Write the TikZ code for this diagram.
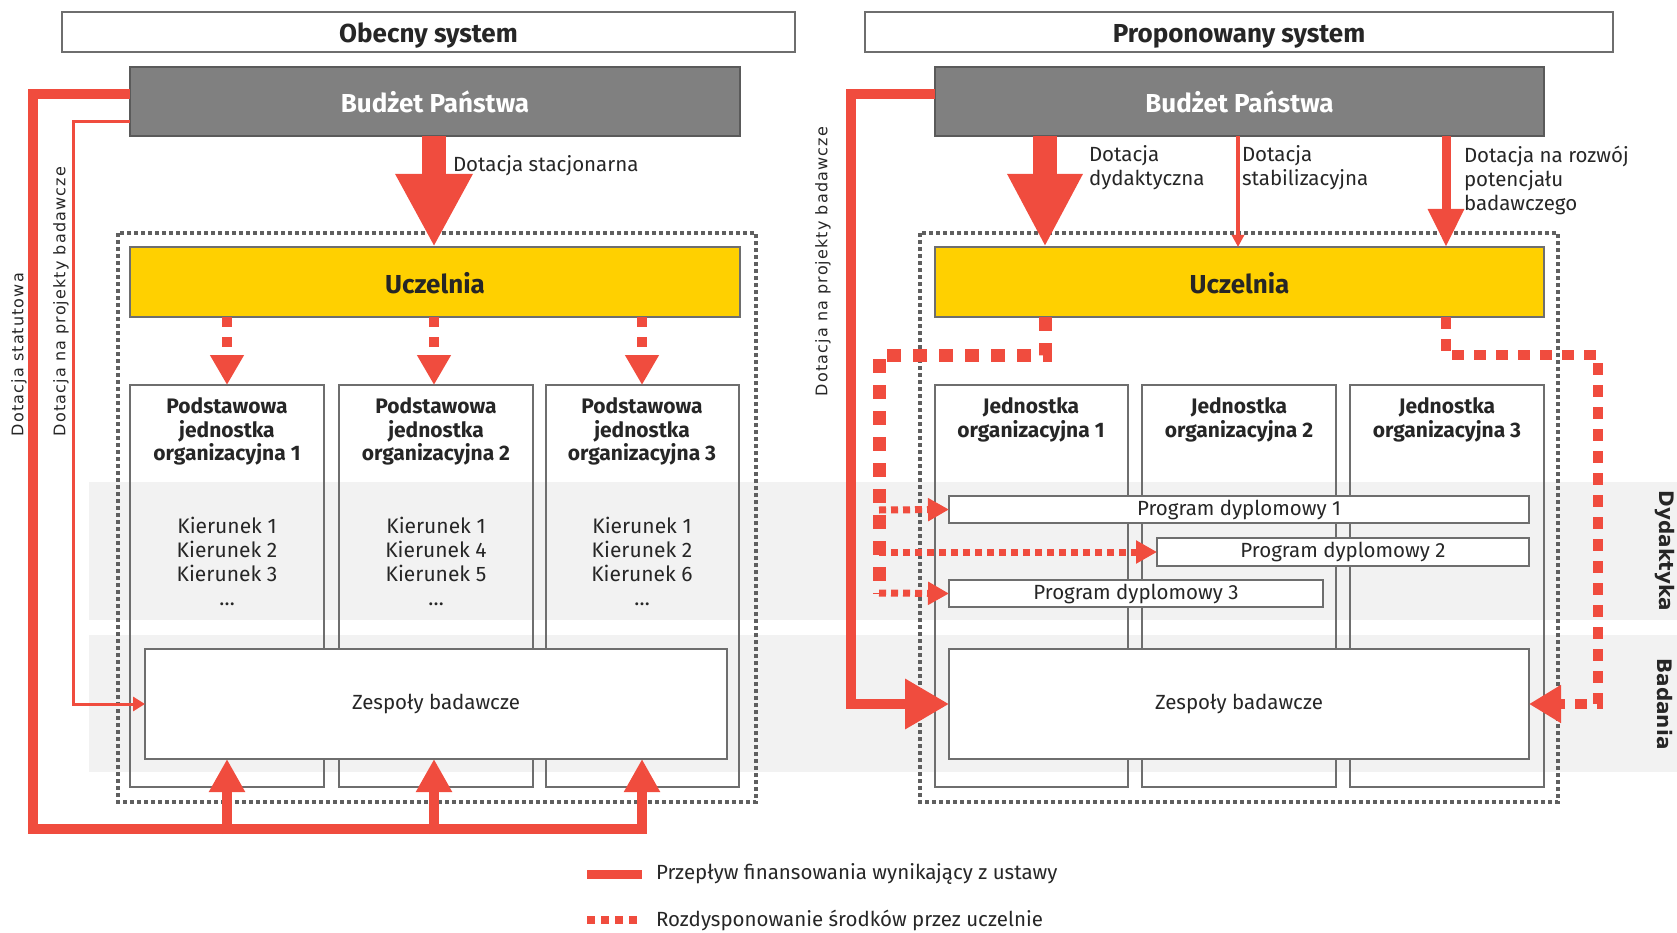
\documentclass[tikz,border=0pt]{standalone}
\usepackage{fontspec}
\setmainfont{Fira Sans}
\newfontfamily\widefont[LetterSpace=7]{DejaVu Sans}
\newfontfamily\sidefont{DejaVu Sans}
\usetikzlibrary{arrows.meta}
\definecolor{eyred}{RGB}{240,76,62}
\definecolor{eyyel}{RGB}{255,208,0}
\definecolor{budg}{RGB}{128,128,128}
\definecolor{bandc}{RGB}{242,242,242}
\definecolor{boxline}{RGB}{110,110,110}
\definecolor{budline}{RGB}{90,90,90}
\definecolor{frameg}{RGB}{95,95,95}
\definecolor{txt}{RGB}{38,38,38}
\begin{document}
\begin{tikzpicture}[x=1pt,y=-1pt,
  every node/.style={inner sep=0pt, outer sep=0pt, text=txt},
  reg/.style={font=\fontsize{20.5}{24}\selectfont, align=left},
  hdr/.style={font=\bfseries\fontsize{21}{23.5}\selectfont, align=center},
  lst/.style={font=\fontsize{21}{24}\selectfont, align=center},
  big/.style={font=\bfseries\fontsize{26}{30}\selectfont, text height=22pt, text depth=0pt},
  ttl/.style={draw=boxline, line width=1.6pt, fill=white, big, anchor=north west},
  bud/.style={draw=budline, line width=1.6pt, fill=budg, big, text=white, anchor=north west},
  ucz/.style={draw=boxline, line width=1.6pt, fill=eyyel, big, anchor=north west},
  col/.style={draw=boxline, line width=1.6pt, anchor=north west},
  wbox/.style={draw=boxline, line width=1.6pt, fill=white, font=\fontsize{20.5}{24}\selectfont, anchor=north west},
  frame/.style={draw=frameg, line width=4pt, dash pattern=on 4pt off 3pt},
  fund/.style={draw=eyred, line width=10pt},
  thinfund/.style={draw=eyred, line width=3pt},
  dispL/.style={draw=eyred, line width=10pt, dash pattern=on 10pt off 10pt},
  dispM/.style={draw=eyred, line width=13pt, dash pattern=on 14pt off 12pt},
  dispB/.style={draw=eyred, line width=7pt, dash pattern=on 7pt off 5pt},
  dispR/.style={draw=eyred, line width=10pt, dash pattern=on 12pt off 10pt},
  vlab/.style={font=\widefont\fontsize{16}{20}\selectfont, rotate=90, anchor=west},
  slab/.style={font=\sidefont\bfseries\fontsize{20}{24}\selectfont, rotate=-90}
]
\useasboundingbox (0,0) rectangle (1677,933);
% bands
\fill[bandc] (89,482) rectangle (1677,620);
\fill[bandc] (89,635) rectangle (1677,772);
% frames
\draw[frame] (118,233) rectangle (756,802);
\draw[frame] (920,233) rectangle (1558,802);
% titles
\node[ttl, minimum width=733pt, minimum height=40pt] (titleL) at (62,12) {Obecny system};
\node[ttl, minimum width=748pt, minimum height=40pt] (titleR) at (865,12) {Proponowany system};
% budget
\node[bud, minimum width=610pt, minimum height=69pt] (budL) at (130,67) {Budżet Państwa};
\node[bud, minimum width=609pt, minimum height=69pt] (budR) at (935,67) {Budżet Państwa};
% uczelnia
\node[ucz, minimum width=610pt, minimum height=70pt] (uczL) at (130,247) {Uczelnia};
\node[ucz, minimum width=609pt, minimum height=70pt] (uczR) at (935,247) {Uczelnia};
% columns left
\node[col, minimum width=194pt, minimum height=402pt] (colL1) at (130,385) {};
\node[col, minimum width=194pt, minimum height=402pt] (colL2) at (339,385) {};
\node[col, minimum width=193pt, minimum height=402pt] (colL3) at (546,385) {};
\node[hdr, anchor=north] (hL1) at (227,398) {Podstawowa\\jednostka\\organizacyjna 1};
\node[hdr, anchor=north] (hL2) at (436,398) {Podstawowa\\jednostka\\organizacyjna 2};
\node[hdr, anchor=north] (hL3) at (642,398) {Podstawowa\\jednostka\\organizacyjna 3};
\node[lst, anchor=north] (kL1) at (227,517) {Kierunek 1\\Kierunek 2\\Kierunek 3\\\dots};
\node[lst, anchor=north] (kL2) at (436,517) {Kierunek 1\\Kierunek 4\\Kierunek 5\\\dots};
\node[lst, anchor=north] (kL3) at (642,517) {Kierunek 1\\Kierunek 2\\Kierunek 6\\\dots};
% columns right
\node[col, minimum width=193pt, minimum height=402pt] (colR1) at (935,385) {};
\node[col, minimum width=194pt, minimum height=402pt] (colR2) at (1142,385) {};
\node[col, minimum width=194pt, minimum height=402pt] (colR3) at (1350,385) {};
\node[hdr, anchor=north] (hR1) at (1031,398) {Jednostka\\organizacyjna 1};
\node[hdr, anchor=north] (hR2) at (1239,398) {Jednostka\\organizacyjna 2};
\node[hdr, anchor=north] (hR3) at (1447,398) {Jednostka\\organizacyjna 3};
% white boxes
\node[wbox, minimum width=582pt, minimum height=110pt] (zespL) at (145,649) {Zespoły badawcze};
\node[wbox, minimum width=580pt, minimum height=110pt] (zespR) at (949,649) {Zespoły badawcze};
\node[wbox, minimum width=580pt, minimum height=27pt] (prog1) at (949,496) {Program dyplomowy 1};
\node[wbox, minimum width=372pt, minimum height=28pt] (prog2) at (1157,538) {Program dyplomowy 2};
\node[wbox, minimum width=374pt, minimum height=27pt] (prog3) at (949,580) {Program dyplomowy 3};
% side labels
\node[vlab] (labStat) at (19,436) {Dotacja statutowa};
\node[vlab] (labProjL) at (61,436) {Dotacja na projekty badawcze};
\node[vlab] (labProjR) at (823,396) {Dotacja na projekty badawcze};
\node[slab] (labDyd) at (1665,551) {Dydaktyka};
\node[slab] (labBad) at (1665,704) {Badania};
% top labels
\node[reg, anchor=west] (labStac) at (453,166) {Dotacja stacjonarna};
\node[reg, anchor=north west] (labDydT) at (1089,146) {Dotacja\\dydaktyczna};
\node[reg, anchor=north west] (labStab) at (1242,146) {Dotacja\\stabilizacyjna};
\node[reg, anchor=north west] (labRozw) at (1464,146) {Dotacja na rozwój\\potencjału\\badawczego};

% ---- left flows
\draw[fund] (budL.west |- 0,94) -- (33,94) -- (33,829) -- (647,829);
\foreach \xx in {227,434,642}
  \draw[fund, -{Triangle[length=33pt,width=34pt]}] (\xx,834) -- (zespL.south -| \xx,0);
\draw[thinfund, -{Triangle[length=12pt,width=14pt]}] (budL.west |- 0,122) -- (73,122) -- (73,704) -- (zespL.west |- 0,704);
\draw[eyred, line width=24pt, -{Triangle[length=73pt,width=72pt]}] (budL.south -| 434,0) -- (uczL.north -| 434,0);
\foreach \xx/\cc in {227/colL1,434/colL2,642/colL3}
  \draw[dispL, -{Triangle[length=30pt,width=32pt]}] (uczL.south -| \xx,0) -- (\cc.north -| \xx,0);

% ---- right flows
\draw[fund, -{Triangle[length=44pt,width=48pt]}] (budR.west |- 0,94) -- (851,94) -- (851,704) -- (zespR.west |- 0,704);
\draw[eyred, line width=24pt, -{Triangle[length=73pt,width=70pt]}] (budR.south -| 1045,0) -- (uczR.north -| 1045,0);
\draw[eyred, line width=3.5pt, -{Triangle[length=12pt,width=12pt]}] (budR.south -| 1238,0) -- (uczR.north -| 1238,0);
\draw[eyred, line width=9pt, -{Triangle[length=38pt,width=34pt]}] (budR.south -| 1446,0) -- (uczR.north -| 1446,0);
\draw[dispM] (uczR.south -| 1045,0) -- (1045,355) -- (879,355) -- (879,594);
\draw[dispB, -{Triangle[length=21pt,width=22pt]}] (879,510) -- (prog1.west);
\draw[dispB, -{Triangle[length=21pt,width=22pt]}] (879,552) -- (prog2.west);
\draw[dispB, -{Triangle[length=21pt,width=22pt]}] (879,593) -- (prog3.west);
\draw[dispR, -{Triangle[length=32pt,width=36pt]}] (uczR.south -| 1446,0) -- (1446,355) -- (1598,355) -- (1598,704) -- (zespR.east |- 0,704);

% legend
\draw[fund, line width=9pt] (587,874) coordinate (lg1a) -- (642,874) coordinate (lg1b);
\node[reg, anchor=west] (lg1) at (656,874) {Przepływ finansowania wynikający z ustawy};
\draw[eyred, line width=8pt, dash pattern=on 8pt off 6pt] (587,920) coordinate (lg2a) -- (642,920) coordinate (lg2b);
\node[reg, anchor=west] (lg2) at (656,920) {Rozdysponowanie środków przez uczelnie};
\end{tikzpicture}
\end{document}
